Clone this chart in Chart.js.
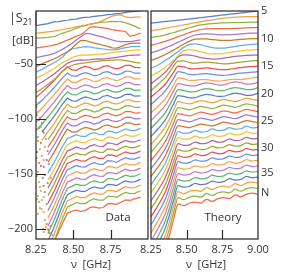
<!DOCTYPE html>
<html>
<head>
<meta charset="utf-8">
<title>S21 data vs theory</title>
<script src="https://cdn.jsdelivr.net/npm/chart.js"></script>
<style>
  body { margin: 0; background: #fff; width: 299px; height: 275px; position: relative; overflow: hidden; font-family: "Open Sans", sans-serif; color: #333; }
  canvas { position: absolute; top: 0; }
  #dataChart { left: 0; }
  #theoryChart { left: 120px; }
  .t { position: absolute; white-space: nowrap; line-height: 1; z-index: 2; }
  .c { transform: translate(-50%, -50%); }
  .sub { font-size: 8.5px; position: relative; top: 3px; }
</style>
</head>
<body>
<canvas id="dataChart" width="152" height="275"></canvas>
<canvas id="theoryChart" width="179" height="275"></canvas>
<div class="t" style="left:9px; top:12px; font-size:12.5px;"><span>|S</span><span class="sub">21</span><span>|</span></div>
<div class="t" style="left:12px; top:34px; font-size:11.5px;">[dB]</div>
<div class="t c" style="left:91px; top:263px; font-size:11px;">ν&nbsp;&nbsp;[GHz]</div>
<div class="t c" style="left:206px; top:263px; font-size:11px;">ν&nbsp;&nbsp;[GHz]</div>
<div class="t c" style="left:118px; top:217px; font-size:11.5px;">Data</div>
<div class="t c" style="left:223px; top:217px; font-size:11.5px;">Theory</div>
<script>
// frequency grids (GHz)
const freqData = [8.25, 8.29, 8.33, 8.37, 8.40, 8.43, 8.46, 8.49, 8.52, 8.55, 8.58, 8.61, 8.64, 8.67, 8.70, 8.73, 8.76, 8.79, 8.82, 8.85, 8.88, 8.91, 8.95];
const freqTheory = [8.25, 8.30, 8.35, 8.38, 8.41, 8.44, 8.48, 8.52, 8.56, 8.60, 8.64, 8.68, 8.72, 8.76, 8.80, 8.84, 8.88, 8.92, 8.96, 9.00];

// measured |S21| (dB, offset per N), N = 5 ... 38, top to bottom
const dataTraces = [
  [-15.2, -14.3, -13.4, -11.8, -11.6, -10.9, -10.4, -9.6, -9.3, -8.2, -7.8, -7.6, -6.8, -6.4, -6.0, -5.3, -5.0, -4.4, -4.1, -3.3, -2.8, -2.4, -1.8],
  [-22.1, -21.6, -21, -20.3, -19.6, -18.8, -18, -17.4, -16.5, -15.6, -14.8, -13.9, -13.2, -12.3, -10.5, -8.3, -6.6, -5.8, -5.6, -7.4, -8, -7.6, -7.3],
  [-26.7, -26.4, -26, -25.3, -23.8, -22, -20.8, -19.3, -17.7, -16.3, -15.2, -14.1, -13.2, -12.5, -12, -11.8, -11.4, -11.6, -11.7, -12.8, -14.2, -15.8, -18.2],
  [-35.7, -34.9, -34, -33, -31.8, -30.3, -28.5, -26.8, -24.8, -23.6, -20.5, -16.8, -16.3, -16.8, -17.3, -18, -18.9, -19.5, -20, -20.6, -25, -24, -22.1],
  [-44.3, -43.2, -42, -40.7, -38.8, -36.6, -34, -31.5, -28.3, -25.3, -22.5, -22.6, -23.6, -24.8, -25.8, -27, -28.2, -29.3, -29.8, -29.9, -29.7, -29.2, -28.2],
  [-52.5, -50, -47.8, -45.6, -43.5, -41.3, -39, -35.8, -31.9, -28.6, -28.8, -30, -31.2, -32.1, -33.1, -34.2, -35.4, -35.6, -34.3, -32.6, -31.5, -31.2, -31.2],
  [-57.5, -55, -52, -49, -46.5, -43.5, -39.5, -36.5, -35.6, -35, -34.3, -34.6, -35.4, -36, -36.5, -37, -37.4, -37, -36.2, -35.3, -34.6, -34.2, -34.3],
  [-63, -60.5, -57.5, -54.5, -51.5, -48.8, -46.6, -44.6, -43, -42, -41.9, -42, -41.6, -41.2, -41.2, -40.5, -39.8, -39.2, -38.8, -38.4, -38, -37.6, -37.2],
  [-69.5, -66.5, -63, -59.5, -56, -52.5, -49.5, -47.8, -46.8, -46.4, -46.5, -46.2, -45.8, -45.5, -45.6, -45.2, -44.6, -44, -43.4, -42.8, -42.3, -42, -41.8],
  [-76, -72.5, -68.5, -64.5, -60.5, -56.5, -53.5, -51.5, -50.3, -49.5, -49.2, -48.5, -48, -47.5, -47, -46.8, -46.5, -46.4, -46.4, -47, -47.8, -48.6, -49.4],
  [-80.4, -75.9, -70.6, -65.4, -60.9, -56.4, -52.6, -55.4, -55.8, -53.7, -52.3, -53.4, -55.3, -54.6, -52.3, -51.7, -53.5, -54.6, -53.4, -51.3, -51.4, -53.2, -53.3],
  [-87.9, -83.1, -77.5, -71.9, -67.1, -62.3, -58.3, -61, -61.4, -59.3, -57.9, -59, -60.8, -60.1, -57.8, -57.1, -58.9, -60, -58.8, -56.6, -56.7, -58.5, -58.5],
  [-95.4, -90.3, -84.3, -78.4, -73.3, -68.2, -63.9, -66.6, -67, -64.8, -63.3, -64.4, -66.2, -65.5, -63.1, -62.4, -64.2, -65.3, -64, -61.8, -61.8, -63.6, -63.6],
  [-103, -97.6, -91.3, -85, -79.6, -74.2, -69.7, -72.4, -72.7, -70.5, -69, -70, -71.8, -71, -68.6, -67.9, -69.6, -70.6, -69.3, -67.1, -67.1, -68.8, -68.8],
  [-110.5, -104.8, -98.1, -91.5, -85.8, -80, -75.3, -77.9, -78.2, -76, -74.5, -75.5, -77.2, -76.4, -74, -73.2, -74.9, -75.9, -74.6, -72.3, -72.3, -74, -73.9],
  [null, -112, -105, -98, -92, -86, -81, -83.6, -83.9, -81.6, -80, -81, -82.7, -81.9, -79.4, -78.6, -80.3, -81.3, -79.9, -77.6, -77.5, -79.2, -79.1],
  [null, -119.2, -111.8, -104.5, -98.2, -91.9, -86.6, -89.2, -89.4, -87.1, -85.5, -86.5, -88.1, -87.2, -84.8, -83.9, -85.6, -86.5, -85.1, -82.8, -82.7, -84.3, -84.2],
  [null, null, -118.7, -111, -104.4, -97.8, -92.3, -94.8, -95.1, -92.7, -91.1, -92, -93.7, -92.7, -90.2, -89.3, -91, -91.9, -90.4, -88.1, -88, -89.6, -89.4],
  [null, null, -125.6, -117.6, -110.7, -103.8, -98, -100.5, -100.7, -98.3, -96.6, -97.5, -99.1, -98.2, -95.6, -94.7, -96.3, -97.1, -95.7, -93.3, -93.2, -94.7, -94.5],
  [null, null, -132.5, -124.1, -116.9, -109.7, -103.7, -106.2, -106.3, -103.9, -102.2, -103.1, -104.6, -103.6, -101.1, -100.1, -101.7, -102.5, -101, -98.6, -98.4, -99.9, -99.7],
  [null, null, -139.3, -130.6, -123.1, -115.6, -109.3, -111.8, -111.9, -109.4, -107.7, -108.5, -110.1, -109, -106.4, -105.5, -107, -107.8, -106.2, -103.8, -103.6, -105.1, -104.8],
  [null, null, -149, -139.9, -132.1, -124.3, -117.8, -116, -114.3, -115.7, -116, -113.6, -112.4, -113.9, -114.2, -111.1, -111.6, -112.8, -110.7, -109, -110.4, -110.5, -108.6],
  [null, null, -155.8, -146.4, -138.3, -130.2, -123.4, -121.6, -119.8, -121.2, -121.5, -119.1, -117.8, -119.3, -119.6, -116.4, -116.8, -118, -115.9, -114.2, -115.6, -115.7, -113.7],
  [null, null, -162.8, -153, -144.6, -136.2, -129.2, -127.4, -125.5, -126.9, -127.1, -124.7, -123.3, -124.8, -125.1, -121.8, -122.3, -123.4, -121.3, -119.5, -120.9, -120.9, -118.9],
  [null, null, -169.6, -159.5, -150.8, -142.1, -134.8, -132.9, -131.1, -132.4, -132.6, -130.1, -128.8, -130.2, -130.4, -127.2, -127.6, -128.7, -126.5, -124.7, -126, -126, -124],
  [null, null, -176.5, -166, -157, -148, -140.5, -138.6, -136.7, -138, -138.2, -135.7, -134.3, -135.7, -135.9, -132.6, -132.9, -134, -131.8, -130, -131.3, -131.3, -129.2],
  [null, null, -183.3, -172.5, -163.2, -153.9, -146.1, -144.2, -142.3, -143.5, -143.7, -141.1, -139.7, -141.1, -141.2, -137.9, -138.2, -139.3, -137.1, -135.2, -136.5, -136.4, -134.3],
  [null, null, -190.2, -179, -169.4, -159.8, -151.8, -149.8, -147.9, -149.1, -149.2, -146.7, -145.2, -146.5, -146.7, -143.3, -143.6, -144.6, -142.4, -140.5, -141.7, -141.6, -139.5],
  [null, null, -197.1, -185.6, -175.7, -165.8, -157.5, -155.5, -153.5, -154.7, -154.8, -152.2, -150.7, -152, -152.1, -148.7, -149, -149.9, -147.6, -145.7, -146.9, -146.7, -144.6],
  [null, null, -204, -192.1, -181.9, -171.7, -163.2, -161.2, -159.2, -160.3, -160.4, -157.7, -156.2, -157.4, -157.5, -154.1, -154.3, -155.3, -153, -151, -152.2, -152, -149.8],
  [null, null, -210.8, -198.6, -188.1, -177.6, -168.8, -166.7, -164.7, -165.8, -165.8, -163.2, -161.6, -162.8, -162.9, -159.4, -159.6, -160.5, -158.2, -156.2, -157.3, -157.1, -154.9],
  [null, null, -217.7, -205.1, -194.3, -183.5, -174.5, -172.4, -170.4, -171.4, -171.4, -168.7, -167.1, -168.3, -168.3, -164.8, -165, -165.9, -163.5, -161.5, -162.6, -162.3, -160.1],
  [null, null, -224.5, -211.6, -200.5, -189.4, -180.1, -178, -175.9, -176.9, -176.9, -174.2, -172.5, -173.7, -173.7, -170.2, -170.3, -171.1, -168.7, -166.7, -167.8, -167.5, -165.2],
  [null, null, -224, -212, -203, -194, -185.5, -184, -182.7, -184, -183.2, -180.5, -179.8, -181, -180.4, -177.2, -176.8, -177.5, -175.6, -173.6, -174, -172.5, -171]
];

// theory |S21| (dB, same offsets), N = 5 ... 38
const theoryTraces = [
  [-13, -12.4, -11.5, -11.1, -10.8, -10.3, -9.8, -9.1, -8.6, -8, -7.3, -6.8, -6.1, -5.6, -4.9, -4.4, -3.7, -3.2, -2.5, -2],
  [-20, -19, -17.8, -17, -16.3, -15.6, -14.6, -13.6, -12.6, -11.7, -10.8, -10, -9.2, -8.5, -8, -7.6, -7.3, -7.1, -7, -7],
  [-26, -25, -23.6, -22.6, -21.5, -20.3, -18.8, -17.2, -15.8, -14.7, -13.9, -13.4, -13, -12.8, -12.6, -12.5, -12.4, -12.3, -12.1, -12],
  [-33, -31.5, -29.5, -28.2, -26.8, -25.3, -23.4, -21.5, -20, -18.8, -18.2, -18, -18, -18.1, -18, -17.8, -17.6, -17.3, -17.1, -17],
  [-40, -38, -35.5, -34, -32.2, -30.3, -28, -25.6, -23.8, -23, -22.8, -23, -23.4, -23.6, -23.5, -23.2, -22.8, -22.4, -22.1, -22],
  [-47, -44.5, -41.5, -39.5, -37.3, -35, -32, -29.3, -27.6, -27.2, -27.4, -28, -28.5, -28.7, -28.6, -28.2, -27.8, -27.4, -27.1, -27],
  [-54, -51, -47, -44.5, -41.8, -38.8, -35, -32.3, -31.8, -32.8, -34.2, -35.3, -35.8, -35.6, -35, -34.2, -33.4, -32.7, -32.2, -32],
  [-61, -57.5, -53, -50, -46.5, -42.5, -38, -37, -37.8, -39.2, -40.4, -41, -41, -40.5, -39.7, -38.9, -38.2, -37.6, -37.2, -37],
  [-68, -63, -57.5, -53, -48, -43.5, -41.8, -42, -43, -44.3, -45.2, -45.6, -45.4, -44.8, -44, -43.3, -42.8, -42.4, -42.1, -42],
  [-74.5, -68.5, -62.5, -57.5, -51.5, -47.5, -47.3, -48.8, -49.3, -48.8, -48.5, -48.8, -49.5, -50, -49.8, -49.2, -48.5, -47.8, -47.3, -47],
  [-80, -74.5, -68.5, -63, -57.3, -52, -52.8, -54.3, -54.6, -54, -53.7, -54.2, -55, -55.3, -54.9, -54.1, -53.4, -52.8, -52.4, -52],
  [-87, -81, -74.6, -69, -63, -57, -58, -59.6, -59.8, -59.1, -58.9, -59.5, -60.3, -60.5, -59.9, -59.1, -58.5, -58.1, -57.6, -57],
  [-94.5, -88.5, -81.7, -75.8, -69, -62.7, -63.5, -65, -65, -64.2, -64.3, -65.2, -65.7, -65.2, -64.4, -64, -64.2, -63.5, -62.6, -62],
  [-101.3, -95, -87.8, -81.5, -74.3, -68, -68.8, -70, -69.9, -68.3, -67.2, -67.9, -69.2, -69, -67.4, -66.4, -67.1, -68.4, -68.2, -66.6],
  [-108.6, -101.9, -94.3, -87.7, -80.1, -73.4, -74.1, -75.4, -75.2, -73.5, -72.4, -73.2, -74.4, -74.2, -72.6, -71.5, -72.2, -73.4, -73.2, -71.6],
  [-115.9, -108.9, -100.9, -93.9, -85.9, -78.9, -79.6, -80.8, -80.6, -78.9, -77.8, -78.4, -79.6, -79.4, -77.8, -76.6, -77.3, -78.5, -78.3, -76.6],
  [-123.2, -115.8, -107.4, -100, -91.7, -84.3, -85.3, -86.4, -84.8, -83.3, -84.3, -85.4, -83.8, -82.2, -83.3, -84.3, -82.8, -81.2, -82.3, -83.3],
  [-130.4, -122.7, -113.9, -106.2, -97.4, -89.7, -90.7, -91.7, -90.1, -88.6, -89.6, -90.6, -89, -87.4, -88.4, -89.4, -87.9, -86.3, -87.3, -88.3],
  [-137.8, -129.7, -120.5, -112.5, -103.3, -95.2, -96.2, -97.2, -95.5, -93.9, -94.9, -95.9, -94.3, -92.6, -93.6, -94.6, -93, -91.3, -92.3, -93.3],
  [-145.1, -136.7, -127.1, -118.7, -109.1, -100.7, -101.6, -102.6, -100.9, -99.3, -100.2, -101.2, -99.5, -97.8, -98.8, -99.7, -98.1, -96.4, -97.4, -98.3],
  [-152.4, -143.6, -133.6, -124.9, -114.9, -106.1, -107, -107.9, -106.2, -104.6, -105.5, -106.4, -104.7, -103, -103.9, -104.8, -103.2, -101.5, -102.4, -103.3],
  [-159.7, -150.6, -140.2, -131.1, -120.7, -111.6, -113.1, -112.7, -110.3, -111.9, -111.4, -109.1, -110.6, -110.2, -107.8, -109.3, -108.9, -106.5, -108.1, -107.7],
  [-167, -157.5, -146.7, -137.3, -126.5, -117, -118.5, -118.1, -115.7, -117.2, -116.7, -114.3, -115.8, -115.4, -113, -114.5, -114, -111.6, -113.1, -112.7],
  [-174.3, -164.5, -153.3, -143.5, -132.3, -122.5, -124, -123.5, -121, -122.5, -122, -119.6, -121.1, -120.6, -118.1, -119.6, -119.1, -116.7, -118.1, -117.7],
  [-181.5, -171.4, -159.8, -149.7, -138.1, -127.9, -129.3, -128.8, -126.4, -127.8, -127.3, -124.8, -126.3, -125.7, -123.3, -124.7, -124.2, -121.7, -123.2, -122.7],
  [-188.9, -178.4, -166.4, -155.9, -143.9, -133.4, -134.8, -134.3, -131.8, -133.2, -132.6, -130.1, -131.5, -131, -128.5, -129.9, -129.3, -126.8, -128.2, -127.7],
  [-196.2, -185.3, -172.9, -162.1, -149.7, -138.8, -140.2, -139.6, -137.1, -138.4, -137.9, -135.3, -136.7, -136.1, -133.6, -135, -134.4, -131.9, -133.2, -132.7],
  [-203.5, -192.3, -179.5, -168.3, -155.5, -144.3, -145.6, -145, -142.5, -143.8, -143.2, -140.6, -142, -141.3, -138.8, -140.1, -139.5, -136.9, -138.3, -137.7],
  [-210.8, -199.2, -186, -174.5, -161.3, -149.7, -151, -150.4, -147.8, -149.1, -148.4, -145.8, -147.2, -146.5, -143.9, -145.2, -144.6, -142, -143.3, -142.7],
  [-218.1, -206.2, -192.6, -180.7, -167.1, -155.2, -156.5, -155.8, -153.2, -154.4, -153.8, -151.1, -152.4, -151.7, -149.1, -150.4, -149.7, -147.1, -148.3, -147.7],
  [-225.4, -213.1, -199.1, -186.9, -172.9, -160.6, -161.9, -161.1, -158.5, -159.7, -159, -156.4, -157.6, -156.9, -154.2, -155.5, -154.8, -152.1, -153.4, -152.7],
  [-232.7, -220.1, -205.7, -193.1, -178.7, -166.1, -168, -165.5, -164.8, -165.7, -162.4, -164.2, -161.8, -161.1, -162, -158.7, -160.5, -158.1, -157.4, -158.3],
  [-240, -227, -212.2, -199.3, -184.5, -171.5, -173.3, -170.9, -170.1, -171, -167.6, -169.5, -167, -166.2, -167.2, -163.8, -165.6, -163.2, -162.4, -163.3],
  [-247.3, -234, -218.8, -205.5, -190.3, -177, -178.8, -176.3, -175.5, -176.4, -173, -174.8, -172.3, -171.5, -172.3, -168.9, -170.7, -168.2, -167.4, -168.3]
];

// measured points below the noise floor (left edge of the data panel)
const noiseFreq = [8.263, 8.276, 8.289, 8.270, 8.302, 8.263, 8.283, 8.309, 8.257, 8.289, 8.322, 8.270, 8.302, 8.341, 8.263, 8.296, 8.328, 8.276, 8.309, 8.263, 8.289, 8.322, 8.276, 8.302, 8.315, 8.335, 8.302, 8.348,
  8.257, 8.270, 8.283, 8.296, 8.263, 8.315, 8.276, 8.328, 8.253, 8.302, 8.283, 8.335, 8.257, 8.309, 8.348, 8.270, 8.302, 8.283, 8.257, 8.302, 8.270, 8.289, 8.263, 8.309, 8.322, 8.296, 8.341, 8.361, 8.328, 8.253, 8.270];
const noiseLevel = [-93.6, -99.1, -103.6, -108.2, -112.7, -116.4, -121.8, -125.5, -130, -133.6, -137.3, -140, -143.6, -146.4, -148.2, -153.6, -158.2, -161.8, -166.4, -170, -173.6, -177.3, -181, -184.5, -198.2, -201, -202.7, -197.3,
  -96.4, -100.9, -107.3, -110.9, -120, -118.2, -127.3, -129.1, -135.4, -137.3, -142.7, -140.9, -151.8, -150.9, -153.6, -157.3, -160.9, -165.4, -172.7, -170.9, -175.3, -181.8, -186.3, -191.8, -195.4, -200, -203.6, -205.4, -200, -89.1, -85.4];
const noiseColor = [1, 1, 2, 3, 6, 2, 3, 1, 3, 1, 8, 3, 4, 6, 1, 4, 3, 1, 4, 1, 1, 4, 1, 1, 1, 3, 1, 4,
  1, 3, 1, 3, 2, 6, 1, 4, 3, 1, 3, 6, 1, 4, 3, 1, 4, 1, 1, 1, 1, 1, 1, 1, 3, 1, 3, 1, 1, 1, 2];

const lineColors = ['#5a7ec5', '#f2a23c', '#8fb53c', '#f36b4b', '#9d7bc9', '#c7792b', '#66aee0', '#f8c234', '#b5669f', '#a3a52b', '#ef4e4e', '#6b8fe1', '#f6a54c', '#c67bc0', '#58b86b'];

const dbTicks = [-50, -100, -150, -200];
const freqTicksData = [8.25, 8.5, 8.75];
const freqTicksTheory = [8.25, 8.5, 8.75, 9.0];
const nTickValues = [-2, -27, -52, -77, -102, -126, -149, -167];
const nTickLabels = ['5', '10', '15', '20', '25', '30', '35', 'N'];
const dbMin = -209, dbMax = -2;

const tickFont = { family: 'Open Sans', size: 11 };
const tickColor = '#333';

// frame + inward tick marks, matplotlib style
const framePlugin = {
  id: 'frame',
  afterDraw(chart, args, opts) {
    const { ctx, chartArea: a } = chart;
    const xs = chart.scales.x, ys = chart.scales.y;
    ctx.save();
    ctx.strokeStyle = '#262626';
    ctx.lineWidth = 1.2;
    ctx.strokeRect(a.left, a.top, a.right - a.left, a.bottom - a.top);
    ctx.beginPath();
    (opts.xTicks || []).forEach(v => {
      const px = Math.round(xs.getPixelForValue(v)) + 0.5;
      ctx.moveTo(px, a.bottom);
      ctx.lineTo(px, a.bottom - 9);
    });
    (opts.yTicks || []).forEach(v => {
      const py = Math.round(ys.getPixelForValue(v)) + 0.5;
      ctx.moveTo(a.left, py);
      ctx.lineTo(a.left + 10, py);
    });
    ctx.stroke();
    ctx.restore();
  }
};

function traceSets(freqs, traces, smooth) {
  return traces.map((vals, k) => ({
    data: freqs.map((f, i) => ({ x: f, y: vals[i] })),
    borderColor: lineColors[k % lineColors.length],
    borderWidth: 1.25,
    pointRadius: 0,
    fill: false,
    spanGaps: false,
    tension: smooth ? 0.4 : 0,
    cubicInterpolationMode: smooth ? 'monotone' : 'default'
  }));
}

const noiseSet = {
  data: noiseFreq.map((f, i) => ({ x: f, y: noiseLevel[i] })),
  showLine: false,
  pointRadius: 1.1,
  pointBorderWidth: 0,
  pointBackgroundColor: noiseColor.map(c => lineColors[c])
};

function freqAxis(ticks) {
  return {
    type: 'linear', min: 8.25, max: 9.0,
    afterBuildTicks: s => { s.ticks = ticks.map(v => ({ value: v })); },
    afterFit: s => { s.height = 36; },
    grid: { display: false, drawTicks: false },
    border: { display: false },
    ticks: { font: tickFont, color: tickColor, padding: 4, maxRotation: 0, autoSkip: false, callback: v => v.toFixed(2) }
  };
}

new Chart(document.getElementById('dataChart'), {
  type: 'line',
  data: { datasets: [...traceSets(freqData, dataTraces, false), noiseSet] },
  options: {
    responsive: false,
    animation: false,
    layout: { padding: { top: 11, right: 1, left: 0, bottom: 0 } },
    plugins: { legend: { display: false }, tooltip: { enabled: false }, frame: { xTicks: [8.5, 8.75], yTicks: dbTicks } },
    scales: {
      x: freqAxis(freqTicksData),
      y: {
        min: dbMin, max: dbMax,
        afterBuildTicks: s => { s.ticks = dbTicks.map(v => ({ value: v })); },
        afterFit: s => { s.width = 36; },
        grid: { display: false, drawTicks: false },
        border: { display: false },
        ticks: { font: tickFont, color: tickColor, padding: 3, autoSkip: false, callback: v => '\u2212' + Math.abs(v) }
      }
    }
  },
  plugins: [framePlugin]
});

new Chart(document.getElementById('theoryChart'), {
  type: 'line',
  data: { datasets: traceSets(freqTheory, theoryTraces, true) },
  options: {
    responsive: false,
    animation: false,
    layout: { padding: { top: 11, right: 0, left: 31, bottom: 0 } },
    plugins: { legend: { display: false }, tooltip: { enabled: false }, frame: { xTicks: [8.5, 8.75] } },
    scales: {
      x: freqAxis(freqTicksTheory),
      y: { display: false, min: dbMin, max: dbMax },
      yR: {
        position: 'right', min: dbMin, max: dbMax,
        afterBuildTicks: s => { s.ticks = nTickValues.map(v => ({ value: v })); },
        afterFit: s => { s.width = 41; },
        grid: { display: false, drawTicks: false },
        border: { display: false },
        ticks: { font: tickFont, color: tickColor, padding: 3, autoSkip: false, callback: (v, i) => nTickLabels[i] }
      }
    }
  },
  plugins: [framePlugin]
});
</script>
</body>
</html>
